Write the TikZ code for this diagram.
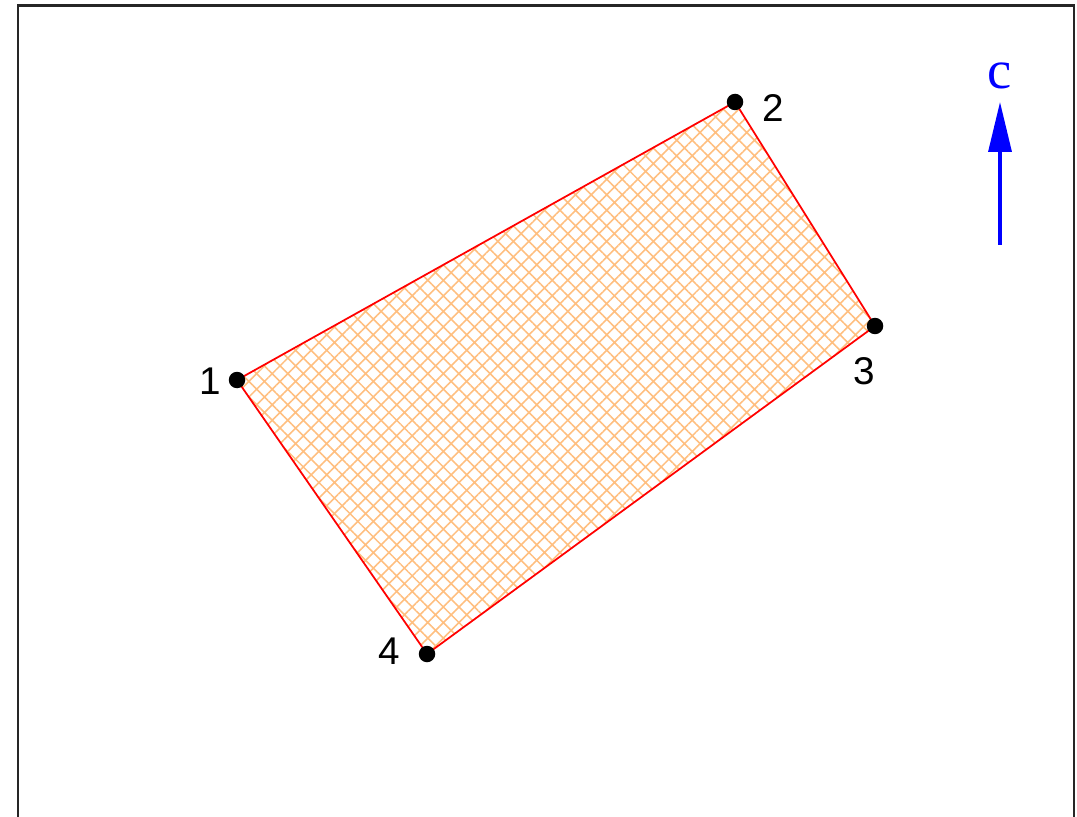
\documentclass[tikz,border=0pt]{standalone}
\usepackage{fontspec}
\setmainfont{Liberation Sans}
\newfontfamily\serifc{Liberation Serif}
\usetikzlibrary{arrows.meta, patterns.meta, positioning}
\tikzset{
    vertex_dot/.style={
        circle, fill=black, inner sep=0pt, minimum size=0.33cm
    },
    vertex_lbl/.style={
        font=\fontsize{22}{24}\selectfont, text=black, inner sep=0pt
    },
    plate_hatch/.style={
        pattern={Hatch[angle=45, distance=11*0.02cm, line width=0.9pt]},
        pattern color=orange!50
    },
    plate_edge/.style={
        draw=red, line width=1.0pt, line join=round
    },
    dir_arrow/.style={
        -{Triangle[length=1.0cm, width=0.46cm]}, draw=blue, line width=1.9pt
    },
    frame_line/.style={
        draw=black!85, line width=1.6pt
    }
}

\begin{document}
\begin{tikzpicture}[x=0.02cm, y=-0.02cm]

    \useasboundingbox (0, 0) rectangle (1077, 817);
    \clip (0, 0) rectangle (1077, 817);

    % frame
    \draw[frame_line] (18, 840) -- (18, 5.5) -- (1074, 5.5) -- (1074, 840);

    % corner points
    \coordinate (p1) at (237, 380);
    \coordinate (p2) at (735, 102);
    \coordinate (p3) at (875, 326);
    \coordinate (p4) at (427, 654);

    % plate
    \fill[plate_hatch] (p1) -- (p2) -- (p3) -- (p4) -- cycle;
    \draw[plate_edge] (p1) -- (p2) -- (p3) -- (p4) -- cycle;

    \node[vertex_dot] (d1) at (p1) {};
    \node[vertex_dot] (d2) at (p2) {};
    \node[vertex_dot] (d3) at (p3) {};
    \node[vertex_dot] (d4) at (p4) {};

    \node[vertex_lbl] (l1) at (210, 381) {1};
    \node[vertex_lbl] (l2) at (773, 108) {2};
    \node[vertex_lbl] (l3) at (864, 371) {3};
    \node[vertex_lbl] (l4) at (389, 651) {4};

    % direction c
    \coordinate (ctail) at (1000, 245);
    \coordinate (ctip) at (1000, 102);
    \node[font=\serifc\fontsize{31}{33}\selectfont, text=blue, inner sep=0pt] (clbl) at (1000, 76) {c};
    \draw[dir_arrow] (ctail) -- (ctip);

\end{tikzpicture}
\end{document}
